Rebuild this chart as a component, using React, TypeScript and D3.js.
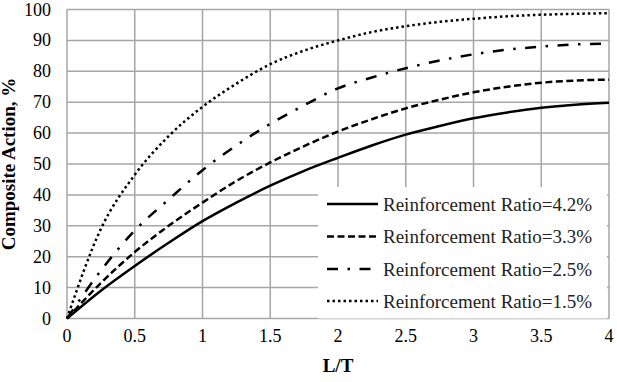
import * as d3 from "d3";
import React from "react";

// L/T values and composite action (%) for each reinforcement ratio
const ltValues = [0, 0.25, 0.5, 0.75, 1, 1.25, 1.5, 1.75, 2, 2.25, 2.5, 2.75, 3, 3.25, 3.5, 3.75, 4];
const ratio42 = [0, 9, 17, 24.5, 31.5, 37.5, 43, 47.8, 52, 56, 59.5, 62.3, 64.8, 66.7, 68.2, 69.2, 69.8];
const ratio33 = [0, 11.5, 21.5, 30, 37.5, 44.5, 50.5, 55.8, 60.5, 64.5, 68, 70.8, 73.2, 75, 76.3, 77, 77.3];
const ratio25 = [0, 15.5, 28.5, 38.5, 48, 56, 63, 69, 74.5, 78, 81, 83.5, 85.5, 87, 88, 88.7, 89];
const ratio15 = [0, 29, 46.5, 59, 68.5, 76, 82.3, 86.7, 90, 92.7, 94.6, 96, 97, 97.8, 98.3, 98.6, 98.8];

const seriesNames = [
  "Reinforcement Ratio=4.2%",
  "Reinforcement Ratio=3.3%",
  "Reinforcement Ratio=2.5%",
  "Reinforcement Ratio=1.5%",
];
const xTicks = [0, 0.5, 1, 1.5, 2, 2.5, 3, 3.5, 4];
const yTicks = [0, 10, 20, 30, 40, 50, 60, 70, 80, 90, 100];

const W = 617;
const H = 382;
const margin = { top: 9.5, right: 8, bottom: 63.5, left: 67 };
const font = "'Liberation Serif', 'Times New Roman', 'DejaVu Serif', serif";
const gridColor = "#a6a6a6";

const styles = [
  { dash: "none", width: 2.5 },
  { dash: "7,3.5", width: 2.5 },
  { dash: "11,9.5,2.5,9.5", width: 2.5 },
  { dash: "2.5,3", width: 2.5 },
];

export default function App() {
  const x = d3
    .scaleLinear()
    .domain([0, 4])
    .range([margin.left, W - margin.right]);
  const y = d3
    .scaleLinear()
    .domain([0, 100])
    .range([H - margin.bottom, margin.top]);

  const line = d3
    .line<number>()
    .x((d, i) => x(ltValues[i]))
    .y((d) => y(d))
    .curve(d3.curveMonotoneX);

  const series = [ratio42, ratio33, ratio25, ratio15];

  const legend = { x0: 318, x1: 607, y0: 187, y1: y(0) };
  const rowY = [204, 236.5, 269, 301];

  return (
    <svg
      width={W}
      height={H}
      style={{ position: "absolute", left: 0, top: 0, background: "#fff", fontFamily: font }}
    >
      <rect x={0} y={0} width={W} height={H} fill="#fff" />
      {/* grid */}
      {yTicks.map((t) => (
        <line
          key={"gy" + t}
          x1={x(0)}
          x2={x(4)}
          y1={y(t)}
          y2={y(t)}
          stroke={gridColor}
          strokeWidth={1.5}
        />
      ))}
      {xTicks.map((t) => (
        <line
          key={"gx" + t}
          x1={x(t)}
          x2={x(t)}
          y1={y(0)}
          y2={y(100)}
          stroke={gridColor}
          strokeWidth={1.5}
        />
      ))}

      {/* curves */}
      {series.map((s, i) => (
        <path
          key={"s" + i}
          d={line(s) || ""}
          fill="none"
          stroke="#000"
          strokeWidth={styles[i].width}
          strokeDasharray={styles[i].dash}
        />
      ))}

      {/* tick labels */}
      {yTicks.map((t) => (
        <text
          key={"ly" + t}
          x={x(0) - 16}
          y={y(t) + 6}
          textAnchor="end"
          fontSize={18}
          fill="#000"
        >
          {t}
        </text>
      ))}
      {xTicks.map((t) => (
        <text
          key={"lx" + t}
          x={x(t)}
          y={342}
          textAnchor="middle"
          fontSize={18}
          fill="#000"
        >
          {t}
        </text>
      ))}

      {/* axis titles */}
      <text
        x={(x(0) + x(4)) / 2}
        y={372}
        textAnchor="middle"
        fontSize={19}
        fontWeight="bold"
      >
        L/T
      </text>
      <text
        transform={`translate(15,${(y(0) + y(100)) / 2}) rotate(-90)`}
        textAnchor="middle"
        fontSize={19}
        fontWeight="bold"
      >
        Composite Action, %
      </text>

      {/* legend */}
      <rect
        x={legend.x0}
        y={legend.y0}
        width={legend.x1 - legend.x0}
        height={legend.y1 - legend.y0}
        fill="#fff"
      />
      {seriesNames.map((name, i) => (
        <g key={"lg" + i}>
          <line
            x1={327}
            x2={378}
            y1={rowY[i]}
            y2={rowY[i]}
            stroke="#000"
            strokeWidth={styles[i].width}
            strokeDasharray={styles[i].dash}
          />
          <text x={383} y={rowY[i] + 6.5} fontSize={19} fill="#222">
            {name}
          </text>
        </g>
      ))}
    </svg>
  );
}
